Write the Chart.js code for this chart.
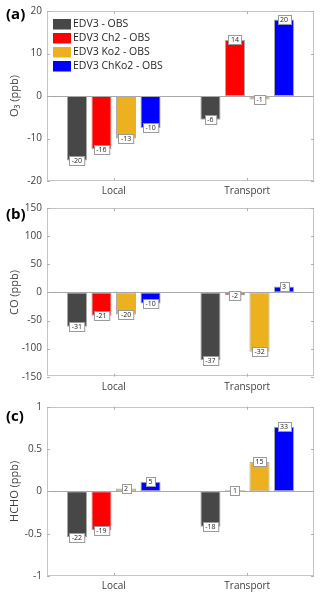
<!DOCTYPE html>
<html><head><meta charset="utf-8">
<script src="https://cdn.jsdelivr.net/npm/chart.js@4/dist/chart.umd.min.js"></script>
<style>
html,body{margin:0;padding:0;background:#fff;width:320px;height:598px;overflow:hidden;}
canvas{position:absolute;left:0;}
</style></head><body>
<canvas id="ca" style="top:0px"></canvas>
<canvas id="cb" style="top:197px"></canvas>
<canvas id="cc" style="top:395px"></canvas>
<script>
const categories = ['Local', 'Transport'];
const seriesNames = ['EDV3 - OBS', 'EDV3 Ch2 - OBS', 'EDV3 Ko2 - OBS', 'EDV3 ChKo2 - OBS'];
const seriesColors = ['#474747', '#ff0000', '#edb120', '#0000ff'];

const o3Edv3 = [-15.2, -5.6];
const o3Ch2 = [-12.5, 13.2];
const o3Ko2 = [-10.0, -0.8];
const o3ChKo2 = [-7.5, 18.0];
const o3Pct = [[-20, -6], [-16, 14], [-13, -1], [-10, 20]];
const o3Ticks = [-20, -10, 0, 10, 20];

const coEdv3 = [-61, -120.6];
const coCh2 = [-41.6, -4.8];
const coKo2 = [-39, -105.7];
const coChKo2 = [-19.6, 10.7];
const coPct = [[-31, -37], [-21, -2], [-20, -32], [-10, 3]];
const coTicks = [-150, -100, -50, 0, 50, 100, 150];

const hchoEdv3 = [-0.543, -0.417];
const hchoCh2 = [-0.46, 0.012];
const hchoKo2 = [0.035, 0.35];
const hchoChKo2 = [0.114, 0.764];
const hchoPct = [[-22, -18], [-19, 1], [2, 15], [5, 33]];
const hchoTicks = [-1, -0.5, 0, 0.5, 1];

const FONT = '"Open Sans", "Noto Sans", sans-serif';

const framePlugin = {
  id: 'frame',
  afterDatasetsDraw(chart, args, opts) {
    const ctx = chart.ctx, a = chart.chartArea;
    const ys = chart.scales.y, xs = chart.scales.x;
    ctx.save();
    // zero line
    const y0 = Math.round(ys.getPixelForValue(0)) + 0.5;
    ctx.strokeStyle = '#a8a8a8'; ctx.lineWidth = 1;
    ctx.beginPath(); ctx.moveTo(a.left, y0); ctx.lineTo(a.right, y0); ctx.stroke();
    // value labels
    ctx.font = '7px ' + FONT;
    ctx.textAlign = 'center'; ctx.textBaseline = 'middle';
    chart.data.datasets.forEach((ds, di) => {
      const meta = chart.getDatasetMeta(di);
      meta.data.forEach((el, i) => {
        const txt = String(opts.pct[di][i]);
        const w = ctx.measureText(txt).width + 5, h = 9;
        const x = Math.round(el.x - w / 2) + 0.5, y = Math.round(el.y - h / 2) + 0.5;
        ctx.fillStyle = '#fff'; ctx.fillRect(x, y, w, h);
        ctx.strokeStyle = '#9a9a9a'; ctx.strokeRect(x, y, w, h);
        ctx.fillStyle = '#222'; ctx.fillText(txt, el.x, el.y + 0.5);
      });
    });
    // frame
    ctx.strokeStyle = '#c4c4c4';
    ctx.strokeRect(Math.round(a.left) + 0.5, Math.round(a.top) + 0.5, Math.round(a.right - a.left) - 1, Math.round(a.bottom - a.top) - 1);
    // inward ticks
    ctx.strokeStyle = '#b0b0b0';
    ctx.beginPath();
    ys.ticks.forEach(t => {
      const y = Math.round(ys.getPixelForValue(t.value)) + 0.5;
      ctx.moveTo(a.left, y); ctx.lineTo(a.left + 3, y);
      ctx.moveTo(a.right, y); ctx.lineTo(a.right - 3, y);
    });
    categories.forEach((c, i) => {
      const x = Math.round(xs.getPixelForValue(i)) + 0.5;
      ctx.moveTo(x, a.bottom); ctx.lineTo(x, a.bottom - 3);
      ctx.moveTo(x, a.top); ctx.lineTo(x, a.top + 3);
    });
    ctx.stroke();
    // legend
    if (opts.legend) {
      ctx.font = '10.5px ' + FONT;
      ctx.textAlign = 'left'; ctx.textBaseline = 'middle';
      chart.data.datasets.forEach((ds, di) => {
        const cy = a.top + 13 + di * 14;
        ctx.fillStyle = ds.backgroundColor;
        ctx.fillRect(a.left + 6, cy - 5, 18, 10.5);
        ctx.fillStyle = '#262626';
        ctx.fillText(ds.label, a.left + 26, cy + 0.5);
      });
    }
    // panel label
    ctx.font = 'bold 15px ' + FONT;
    ctx.fillStyle = '#000'; ctx.textAlign = 'left'; ctx.textBaseline = 'middle';
    ctx.fillText(opts.panel, 6, opts.panelY);
    ctx.restore();
  }
};

function makeChart(id, h, padTop, bottom, vals, pct, ticks, title, panel, panelY, legend) {
  const cv = document.getElementById(id);
  cv.width = 320; cv.height = h;
  cv.style.width = '320px'; cv.style.height = h + 'px';
  return new Chart(cv, {
    type: 'bar',
    data: {
      labels: categories,
      datasets: vals.map((v, i) => ({
        label: seriesNames[i], data: v,
        backgroundColor: seriesColors[i],
        borderColor: 'rgba(100,100,100,0.55)', borderWidth: 1, borderSkipped: false,
        categoryPercentage: 0.735, barPercentage: 0.82
      }))
    },
    options: {
      responsive: false, animation: false,
      layout: { padding: { top: padTop, right: 6, left: 0, bottom: 0 } },
      plugins: {
        legend: { display: false }, tooltip: { enabled: false },
        frame: { pct: pct, legend: legend, panel: panel, panelY: panelY }
      },
      scales: {
        x: {
          grid: { display: false, drawTicks: false }, border: { display: false },
          ticks: { font: { family: FONT, size: 10 }, color: '#404040', padding: 4 },
          afterFit(s) { s.height = h - bottom; }
        },
        y: {
          min: ticks[0], max: ticks[ticks.length - 1],
          afterBuildTicks(s) { s.ticks = ticks.map(v => ({ value: v })); },
          grid: { display: false, drawTicks: false }, border: { display: false },
          ticks: { font: { family: FONT, size: 10 }, color: '#404040', padding: 5,
                   callback: v => String(v) },
          title: { display: true, text: title, font: { family: FONT, size: 11 }, color: '#404040',
                   padding: { top: 8, bottom: 0 } },
          afterFit(s) { s.width = 47; }
        }
      }
    },
    plugins: [framePlugin]
  });
}

makeChart('ca', 198, 11, 181, [o3Edv3, o3Ch2, o3Ko2, o3ChKo2], o3Pct, o3Ticks, 'O\u2083 (ppb)', '(a)', 15, true);
makeChart('cb', 198, 11.3, 179.7, [coEdv3, coCh2, coKo2, coChKo2], coPct, coTicks, 'CO (ppb)', '(b)', 18, false);
makeChart('cc', 203, 11.7, 181, [hchoEdv3, hchoCh2, hchoKo2, hchoChKo2], hchoPct, hchoTicks, 'HCHO (ppb)', '(c)', 21.7, false);
</script>
</body></html>
